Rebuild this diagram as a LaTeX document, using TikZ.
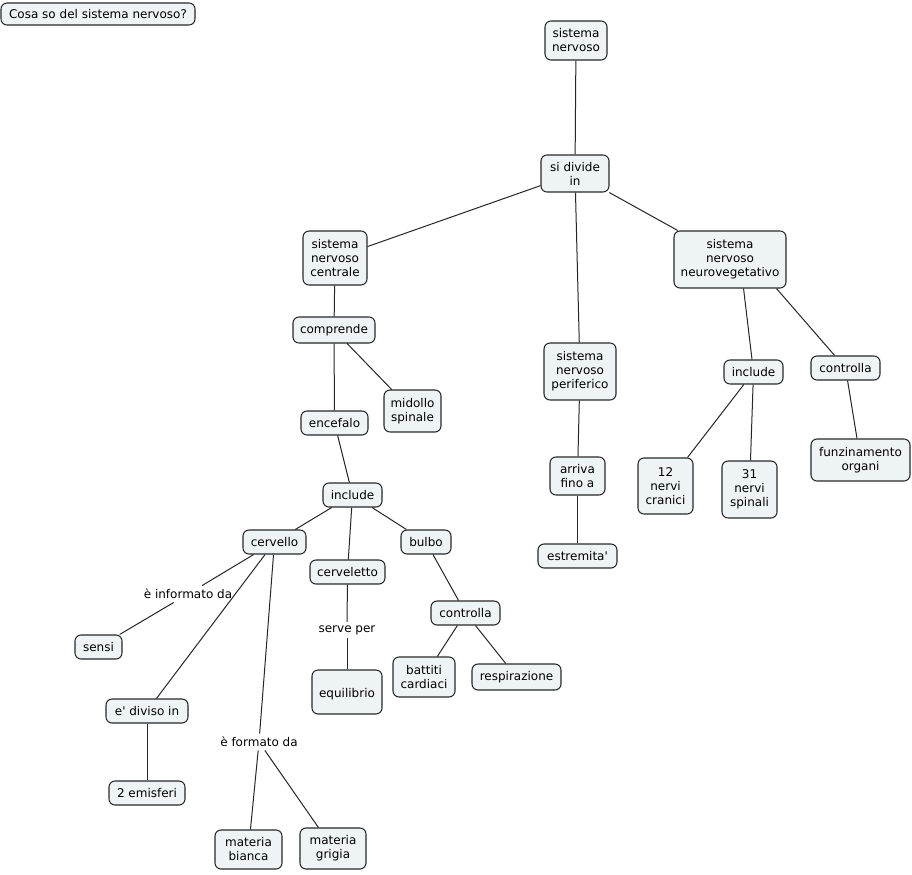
\documentclass[tikz,border=0pt]{standalone}
\usepackage{fontspec}
\setmainfont{DejaVu Sans}
\definecolor{boxfill}{RGB}{238,243,246}
\definecolor{boxline}{RGB}{40,40,40}
\begin{document}
\begin{tikzpicture}[x=0.75pt,y=-0.75pt,
  font=\fontsize{9}{10.5}\selectfont,
  cbox/.style={draw=boxline,line width=0.8pt,fill=boxfill,rounded corners=4.5pt,
    align=center,inner sep=0pt},
  lbl/.style={align=center,inner sep=2.5pt},
  conn/.style={draw=black!85,line width=0.75pt}]
\useasboundingbox[fill=white] (0,0) rectangle (912,874);
\newcommand{\bx}[5]{\node[cbox,minimum width=#3*0.75pt,minimum height=#4*0.75pt] (#1) at #2 {#5};}
\bx{title}{(98,14)}{194}{22}{Cosa so del sistema nervoso?}
\bx{sn}{(576,40.5)}{62}{39}{sistema\\nervoso}
\bx{sdi}{(575,173.5)}{68}{37}{si divide\\in}
\bx{snc}{(335,258)}{64}{54}{sistema\\nervoso\\centrale}
\bx{comp}{(334,330)}{82}{26}{comprende}
\bx{mid}{(412.5,411)}{57}{42}{midollo\\spinale}
\bx{enc}{(334.5,423)}{67}{24}{encefalo}
\bx{incl}{(352.5,495)}{59}{24}{include}
\bx{cerv}{(274.5,542)}{63}{24}{cervello}
\bx{cvt}{(347.5,572)}{75}{24}{cerveletto}
\bx{bulbo}{(426,542)}{50}{24}{bulbo}
\bx{ctrla}{(465.5,613)}{69}{24}{controlla}
\bx{batt}{(424,677)}{62}{40}{battiti\\cardiaci}
\bx{resp}{(516.5,677)}{89}{26}{respirazione}
\bx{equi}{(347,692)}{70}{44}{\mbox{}\\equilibrio}
\bx{sensi}{(98.5,647)}{47}{24}{sensi}
\bx{ediv}{(147,711)}{82}{24}{e\textquotesingle{} diviso in}
\bx{emis}{(147,793)}{76}{24}{2 emisferi}
\bx{mbia}{(248.5,849.5)}{67}{39}{materia\\bianca}
\bx{mgri}{(333,848.5)}{66}{41}{materia\\grigia}
\bx{per}{(580,371.5)}{72}{57}{sistema\\nervoso\\periferico}
\bx{arr}{(577.5,476)}{55}{38}{arriva\\fino a}
\bx{est}{(577.5,556)}{79}{24}{estremita\textquotesingle}
\bx{neu}{(730,259.5)}{112}{57}{sistema\\nervoso\\neurovegetativo}
\bx{inclb}{(753.5,372)}{59}{24}{include}
\bx{ctrlb}{(845.5,368)}{69}{24}{controlla}
\bx{ndc}{(665.5,486)}{55}{56}{12\\nervi\\cranici}
\bx{nds}{(749.5,489.5)}{55}{57}{31\\nervi\\spinali}
\bx{funz}{(860.5,460)}{99}{42}{funzinamento\\organi}
\node[lbl] (inf) at (188,594) {è informato da};
\node[lbl] (serve) at (347,630) {serve per};
\node[lbl] (form) at (259,742) {è formato da};
% connectors
\draw[conn] (sn) -- (sdi);
\draw[conn] (sdi) -- (snc);
\draw[conn] (sdi) -- (per);
\draw[conn] (sdi) -- (neu);
\draw[conn] (snc) -- (comp);
\draw[conn] (comp) -- (enc);
\draw[conn] (comp) -- (mid);
\draw[conn] (enc) -- (incl);
\draw[conn] (incl) -- (cerv);
\draw[conn] (incl) -- (cvt);
\draw[conn] (incl) -- (bulbo);
\draw[conn] (cerv) -- (inf);
\draw[conn] (inf) -- (sensi);
\draw[conn] (cerv) -- (ediv);
\draw[conn] (cerv) -- (form);
\draw[conn] (form) -- (mbia);
\draw[conn] (form) -- (mgri);
\draw[conn] (ediv) -- (emis);
\draw[conn] (cvt) -- (serve);
\draw[conn] (serve) -- (equi);
\draw[conn] (bulbo) -- (ctrla);
\draw[conn] (ctrla) -- (batt);
\draw[conn] (ctrla) -- (resp);
\draw[conn] (per) -- (arr);
\draw[conn] (arr) -- (est);
\draw[conn] (neu.-65) -- (inclb);
\draw[conn] (neu.-32) -- (ctrlb);
\draw[conn] (inclb) -- (ndc);
\draw[conn] (inclb) -- (nds);
\draw[conn] (ctrlb) -- (funz);
\end{tikzpicture}
\end{document}
